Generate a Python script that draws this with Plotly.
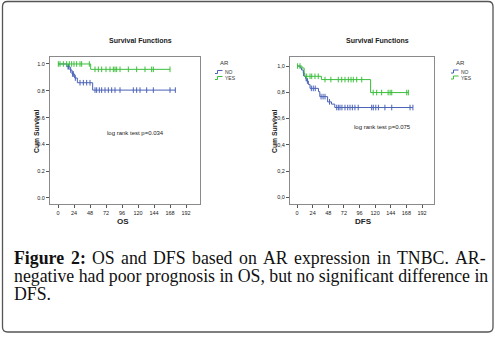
import plotly.graph_objects as go

# ---------------- data ----------------
x_ticks = [0, 24, 48, 72, 96, 120, 144, 168, 192]
y_ticks = [0.0, 0.2, 0.4, 0.6, 0.8, 1.0]
y_ticktext_os = ["0.0", "0.2", "0.4", "0.6", "0.8", "1.0"]
y_ticktext_dfs = ["0,0", "0,2", "0,4", "0,6", "0,8", "1,0"]
groups = ["NO", "YES"]

# OS (overall survival) Kaplan-Meier steps
os_no_times = [0, 13, 18, 21, 25, 29, 52, 176]
os_no_surv = [1.0, 0.98, 0.955, 0.925, 0.895, 0.86, 0.805, 0.805]
os_no_censor = [15, 16, 19, 22, 23, 26, 33, 38, 43, 48, 55.5, 58, 62, 65.5, 70.5, 75.5,
                80.5, 85.5, 93, 113, 118, 123, 133, 143, 168, 176]
os_yes_times = [0, 49, 168]
os_yes_surv = [1.0, 0.96, 0.96]
os_yes_censor = [0.5, 3, 8, 13, 17, 20.5, 24, 28, 33, 35.5, 47, 55.5, 60.5, 65.5, 72, 78,
                 83, 85.5, 88, 93, 105.5, 118, 130.5, 140.5, 143, 168]

# DFS (disease-free survival) Kaplan-Meier steps
dfs_no_times = [0, 4.6, 7, 9.7, 12, 13.3, 15, 17.5, 20, 33, 35, 47, 53, 58, 178]
dfs_no_surv = [1.0, 0.987, 0.97, 0.945, 0.92, 0.905, 0.886, 0.86, 0.83, 0.805, 0.767,
               0.727, 0.71, 0.684, 0.684]
dfs_no_censor = [10, 14, 16, 22, 25, 28, 37, 40, 43, 50, 61, 63.5, 66, 69, 73.7, 77.9,
                 81.4, 85, 89, 94, 114.7, 117.2, 121, 125, 135, 145.5, 173.6, 178]
dfs_yes_times = [0, 7.7, 11, 37.5, 113, 171]
dfs_yes_surv = [1.0, 0.985, 0.922, 0.897, 0.798, 0.798]
dfs_yes_censor = [1, 4.6, 14.9, 20, 22.6, 27.6, 32.7, 43, 52, 63.4, 68.7, 73.7, 78.8, 83,
                  86.5, 91.7, 99.4, 117, 122.4, 130, 140, 143, 145.5, 168.5, 171]

os_p_text = "log rank test p=0.034"
dfs_p_text = "log rank test p=0.075"

# ---------------- style ----------------
W, H = 495, 338
BLUE = "#4a62b8"
GREEN = "#3cbf3c"
SANS = "Liberation Sans, Arial, sans-serif"
SERIF = "Liberation Serif, Times New Roman, serif"


def PX(x):
    return x / W


def PY(y):
    return 1 - y / H


def step_val(times, surv, t):
    v = surv[0]
    for tt, s in zip(times, surv):
        if tt <= t:
            v = s
    return v


fig = go.Figure()

series = [
    ("x", "y", os_no_times, os_no_surv, os_no_censor, BLUE),
    ("x", "y", os_yes_times, os_yes_surv, os_yes_censor, GREEN),
    ("x2", "y2", dfs_no_times, dfs_no_surv, dfs_no_censor, BLUE),
    ("x2", "y2", dfs_yes_times, dfs_yes_surv, dfs_yes_censor, GREEN),
]
for xa, ya, t, s, c, col in series:
    fig.add_trace(go.Scatter(x=t, y=s, mode="lines", line=dict(color=col, width=1, shape="hv"),
                             xaxis=xa, yaxis=ya, showlegend=False, hoverinfo="skip"))
    fig.add_trace(go.Scatter(x=c, y=[step_val(t, s, ci) for ci in c], mode="markers",
                             marker=dict(symbol="line-ns-open", size=4, color=col,
                                         line=dict(color=col, width=1)),
                             xaxis=xa, yaxis=ya, showlegend=False, hoverinfo="skip"))

axis_common = dict(showline=True, mirror=True, linecolor="#8a8a8a", linewidth=1,
                   showgrid=False, zeroline=False, ticks="outside", ticklen=3, tickwidth=1,
                   tickcolor="#555", tickfont=dict(family=SANS, size=5.5, color="#222"))

fig.update_layout(
    width=W, height=H, margin=dict(l=0, r=0, t=0, b=0),
    paper_bgcolor="white", plot_bgcolor="white", showlegend=False,
    xaxis=dict(domain=[PX(50), PX(200)], range=[-12, 213], tickvals=x_ticks,
               anchor="y", **axis_common),
    yaxis=dict(domain=[PY(204), PY(57)], range=[-0.045, 1.052], tickvals=y_ticks,
               ticktext=y_ticktext_os, anchor="x", **axis_common),
    xaxis2=dict(domain=[PX(290), PX(434)], range=[-10.75, 210.4], tickvals=x_ticks,
                anchor="y2", **axis_common),
    yaxis2=dict(domain=[PY(204), PY(57)], range=[-0.051, 1.069], tickvals=y_ticks,
                ticktext=y_ticktext_dfs, anchor="x2", **axis_common),
)

ann = []


def text(x, y, s, size, bold=False, family=SANS, color="#222", xanchor="center", angle=0):
    ann.append(dict(x=PX(x), y=PY(y), xref="paper", yref="paper", text=(f"<b>{s}</b>" if bold else s),
                    showarrow=False, xanchor=xanchor, yanchor="middle", textangle=angle,
                    font=dict(family=family, size=size, color=color)))


# titles
text(140, 41, "Survival Functions", 7, bold=True)
text(377, 41, "Survival Functions", 7, bold=True)
# axis titles
text(123, 221, "OS", 8, bold=True)
text(363, 221, "DFS", 8, bold=True)
text(36, 131, "Cum Survival", 6.8, bold=True, angle=-90)
text(274, 131, "Cum Survival", 6.8, bold=True, angle=-90)
# log rank
text(135, 133, os_p_text, 6)
text(382, 127, dfs_p_text, 6)

# legends
shapes = []
for (lx, ly0) in [(215, 63), (451, 62.5)]:
    text(lx + 9, ly0, "AR", 6, color="#333")
    for i, (g, col) in enumerate(zip(groups, [BLUE, GREEN])):
        yy = ly0 + 9 + i * 6
        text(lx + 8, yy, g, 5, color="#333", xanchor="left")
        path = (f"M {PX(lx)},{PY(yy + 1.5)} L {PX(lx + 2.5)},{PY(yy + 1.5)} "
                f"L {PX(lx + 2.5)},{PY(yy - 1.5)} L {PX(lx + 7.5)},{PY(yy - 1.5)}")
        shapes.append(dict(type="path", xref="paper", yref="paper", path=path,
                           line=dict(color=col, width=1)))

# caption (first line justified: word positions)
CAP = 17.8
line1_words = [("Figure", True, 12), ("2:", True, 68.8), ("OS", False, 90.0),
               ("and", False, 119.1), ("DFS", False, 151.2), ("based", False, 190.2),
               ("on", False, 237.1), ("AR", False, 261.3), ("expression", False, 292.4),
               ("in", False, 374.9), ("TNBC.", False, 395.1), ("AR-", False, 453.4)]
for w, b, x in line1_words:
    text(x, 258, w, CAP, bold=b, family=SERIF, color="#111", xanchor="left")
text(12, 276, "negative had poor prognosis in OS, but no significant difference in", CAP,
     family=SERIF, color="#111", xanchor="left")
text(12, 294, "DFS.", CAP, family=SERIF, color="#111", xanchor="left")

# outer rounded border
x0, y0, x1, y1, r = 2.5, 1.5, 493, 332, 5
border = (f"M {PX(x0)},{PY(y0 + r)} Q {PX(x0)},{PY(y0)} {PX(x0 + r)},{PY(y0)} "
          f"L {PX(x1 - r)},{PY(y0)} Q {PX(x1)},{PY(y0)} {PX(x1)},{PY(y0 + r)} "
          f"L {PX(x1)},{PY(y1 - r)} Q {PX(x1)},{PY(y1)} {PX(x1 - r)},{PY(y1)} "
          f"L {PX(x0 + r)},{PY(y1)} Q {PX(x0)},{PY(y1)} {PX(x0)},{PY(y1 - r)} Z")
shapes.append(dict(type="path", xref="paper", yref="paper", path=border,
                   line=dict(color="#555", width=1.3)))

fig.update_layout(annotations=ann, shapes=shapes)
fig.write_html("out.html", config={"displayModeBar": False},
               post_script="document.body.style.margin='0';document.body.style.padding='0';"
                           "document.body.style.overflow='hidden';")
